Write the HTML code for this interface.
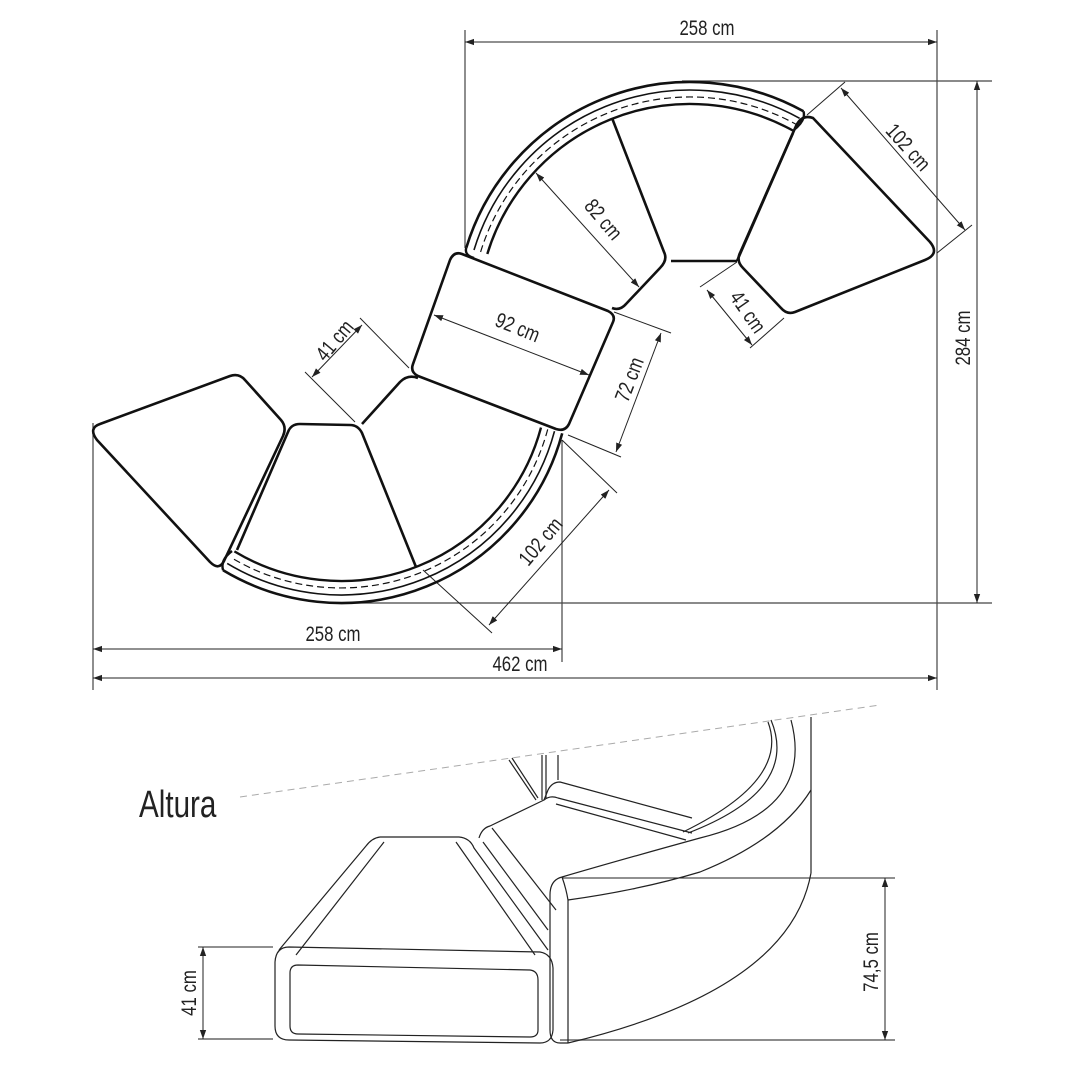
<!DOCTYPE html>
<html><head><meta charset="utf-8"><style>
html,body{margin:0;padding:0;background:#fff;}
svg{display:block}
text{font-family:"Liberation Sans",sans-serif;fill:#222;}
</style></head><body>
<svg width="1080" height="1080" viewBox="0 0 1080 1080" xmlns="http://www.w3.org/2000/svg">
<defs>
<marker id="a" viewBox="0 0 10 10" refX="10" refY="5" markerWidth="9" markerHeight="9" orient="auto-start-reverse" markerUnits="userSpaceOnUse"><path d="M0,1.5 L10,5 L0,8.5 z" fill="#222"/></marker>
</defs>
<rect width="1080" height="1080" fill="#fff"/>

<g stroke="#444" stroke-width="1.2" fill="none">
<line x1="465" y1="30" x2="465" y2="248"/>
<line x1="937" y1="30" x2="937" y2="690"/>
<line x1="682" y1="81" x2="992" y2="81"/>
<line x1="341" y1="603" x2="992" y2="603"/>
<line x1="93" y1="423" x2="93" y2="690"/>
<line x1="562" y1="440" x2="562" y2="662"/>
</g>
<g stroke="#222" stroke-width="1" fill="none">
<line x1="465" y1="42" x2="937" y2="42" marker-start="url(#a)" marker-end="url(#a)"/>
<line x1="977" y1="81" x2="977" y2="603" marker-start="url(#a)" marker-end="url(#a)"/>
<line x1="93" y1="649" x2="562" y2="649" marker-start="url(#a)" marker-end="url(#a)"/>
<line x1="93" y1="678" x2="937" y2="678" marker-start="url(#a)" marker-end="url(#a)"/>
<line x1="807" y1="115" x2="845" y2="82"/>
<line x1="937" y1="253" x2="972" y2="225"/>
<line x1="841" y1="88" x2="965" y2="230" marker-start="url(#a)" marker-end="url(#a)"/>
<line x1="536" y1="173" x2="639" y2="287" marker-start="url(#a)" marker-end="url(#a)"/>
<line x1="700" y1="287" x2="737" y2="262"/>
<line x1="784" y1="318" x2="750" y2="348"/>
<line x1="707" y1="290" x2="752" y2="345" marker-start="url(#a)" marker-end="url(#a)"/>
<line x1="434" y1="315" x2="589" y2="375" marker-start="url(#a)" marker-end="url(#a)"/>
<line x1="614" y1="312" x2="671" y2="333"/>
<line x1="568" y1="435" x2="621" y2="457"/>
<line x1="661" y1="333" x2="616" y2="452" marker-start="url(#a)" marker-end="url(#a)"/>
<line x1="360" y1="318" x2="409" y2="368"/>
<line x1="305" y1="372" x2="355" y2="422"/>
<line x1="362" y1="325" x2="312" y2="377" marker-start="url(#a)" marker-end="url(#a)"/>
<line x1="562" y1="440" x2="617" y2="493"/>
<line x1="423" y1="570" x2="492" y2="633"/>
<line x1="609" y1="490" x2="489" y2="625" marker-start="url(#a)" marker-end="url(#a)"/>
</g>

<g fill="none" stroke="#111">
<path d="M466.3,247.7 A234,234 0 0 1 803.5,111.3" stroke-width="2.6"/>
<path d="M474,250 A226,226 0 0 1 799.6,118.3" stroke-width="1.6"/>
<path d="M480.6,252 A219,219 0 0 1 796.2,124.4" stroke-width="1.2" stroke-dasharray="7,4"/>
<path d="M487.3,254 A212,212 0 0 1 792.8,130.5" stroke-width="2.4"/>
<path d="M466.3,247.7 Q464,255 474,258" stroke-width="2.4"/>
<path d="M803.5,111.3 Q806,120 795,129" stroke-width="2.4"/>
<path d="M562.2,433.3 A229,229 0 0 1 223.1,570.3" stroke-width="2.6"/>
<path d="M554.5,431.2 A221,221 0 0 1 227.2,563.4" stroke-width="1.6"/>
<path d="M547.7,429.4 A214,214 0 0 1 230.8,557.4" stroke-width="1.2" stroke-dasharray="7,4"/>
<path d="M541,427.6 A207,207 0 0 1 234.4,551.4" stroke-width="2.4"/>
<path d="M223.1,570.3 Q220,560 232,551" stroke-width="2.4"/>
</g>

<g fill="none" stroke="#111" stroke-width="2.6" stroke-linejoin="round">
<path d="M462,254 L608,311 Q616,315 613,322 L569,424 Q565,432 556,429 L418,376 Q410,372 413,364 L450,260 Q454,251 462,254 Z"/>
<path d="M612,118 L664,252 Q668,260 660,268 L626,304 Q620,311 612,308"/>
<path d="M671,261 L737,261"/>
<path d="M737,261 L793,133"/>
<path d="M813,118 L930,242 Q940,254 925,260 L795,312 Q787,315 781,308 L743,268 Q736,261 740,253 L796,126 Q802,114 813,118 Z"/>
<path d="M100,424 L230,376 Q239,373 245,380 L281,420 Q287,427 283,436 L224,561 Q219,571 210,562 L97,440 Q88,428 100,424 Z"/>
<path d="M237,550 L288,432 Q291,424 300,424 L350,425 Q358,425 362,433 L416,567"/>
<path d="M362,424 L400,382 Q408,374 418,378"/>
</g>

<g font-size="21" text-anchor="middle">
<text transform="translate(707,35) scale(0.8,1)">258 cm</text>
<text transform="translate(333,641) scale(0.8,1)">258 cm</text>
<text transform="translate(520,671) scale(0.8,1)">462 cm</text>
<text transform="translate(970,338) rotate(-90) scale(0.8,1)">284 cm</text>
<text transform="translate(903,152) rotate(48) scale(0.8,1)">102 cm</text>
<text transform="translate(598,224) rotate(50) scale(0.8,1)">82 cm</text>
<text transform="translate(742,316) rotate(55) scale(0.8,1)">41 cm</text>
<text transform="translate(515,334) rotate(22) scale(0.8,1)">92 cm</text>
<text transform="translate(636,382) rotate(-69) scale(0.8,1)">72 cm</text>
<text transform="translate(340,345) rotate(-50) scale(0.8,1)">41 cm</text>
<text transform="translate(546,546) rotate(-50) scale(0.8,1)">102 cm</text>
</g>

<text transform="translate(139,817) scale(0.78,1)" font-size="38">Altura</text>
<line x1="240" y1="797" x2="880" y2="705" stroke="#aaa" stroke-width="1" stroke-dasharray="7,5"/>

<g stroke="#222" stroke-width="1" fill="none">
<line x1="198" y1="947" x2="273" y2="947"/>
<line x1="198" y1="1039" x2="273" y2="1039" stroke="#666" stroke-width="1.5"/>
<line x1="203" y1="947" x2="203" y2="1039" marker-start="url(#a)" marker-end="url(#a)"/>
<line x1="562" y1="878" x2="895" y2="878"/>
<line x1="560" y1="1040" x2="895" y2="1040" stroke="#666" stroke-width="1.5"/>
<line x1="885" y1="878" x2="885" y2="1040" marker-start="url(#a)" marker-end="url(#a)"/>
</g>
<g font-size="21" text-anchor="middle">
<text transform="translate(196,993) rotate(-90) scale(0.8,1)">41 cm</text>
<text transform="translate(878,962) rotate(-90) scale(0.8,1)">74,5 cm</text>
</g>

<g fill="none" stroke="#222" stroke-width="1.2" stroke-linejoin="round">
<line x1="509" y1="760" x2="536" y2="800"/>
<line x1="512" y1="758" x2="538" y2="798"/>
<line x1="542" y1="755" x2="542" y2="800"/>
<line x1="546" y1="755" x2="546" y2="798"/>
<line x1="558" y1="755" x2="558" y2="780"/>
<path d="M771,720 Q800,790 688,833"/>
<path d="M791,720 Q815,810 700,838 Q620,860 562,877"/>
<path d="M811,717 L811,873"/>
<path d="M811,873 Q790,990 568,1043"/>
<path d="M768,722 Q790,780 683,832"/>
<path d="M479,838 Q482,828 490,826 L544,800 Q550,795 558,798 L692,833"/>
<path d="M544,800 L548,790 Q552,782 560,782 L692,818"/>
<path d="M483,842 L548,930"/>
<path d="M492,828 L556,910"/>
<path d="M556,804 L686,840"/>
<path d="M380,837 L459,837 Q470,838 474,848 L548,950"/>
<path d="M380,837 Q372,838 366,846 L279,950"/>
<path d="M384,842 L296,955"/>
<path d="M456,842 L535,955"/>
<path d="M289,947 L540,952 Q552,954 553,968 L553,1030 Q552,1043 540,1043 L289,1040 Q275,1040 275,1026 L275,962 Q276,947 289,947 Z"/>
<path d="M298,965 L530,970 Q538,971 538,980 L538,1030 Q538,1037 530,1037 L298,1034 Q290,1034 290,1026 L290,973 Q290,965 298,965 Z"/>
<path d="M562,877 Q550,880 550,895 L550,1030 Q550,1043 560,1043 L568,1043"/>
<path d="M568,900 L568,1043"/>
<path d="M562,877 Q566,888 568,900 Q640,890 700,872 Q780,840 811,790"/>
</g>
</svg>
</body></html>
